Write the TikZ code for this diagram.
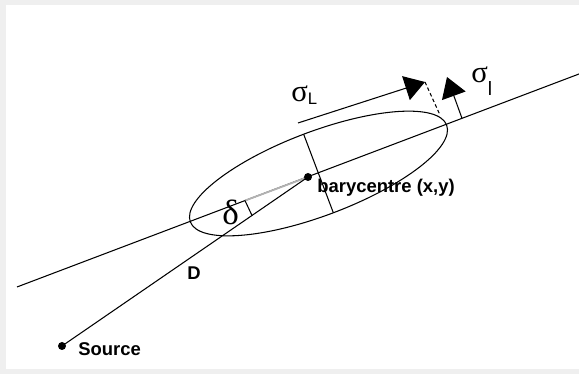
\documentclass[tikz,border=0pt]{standalone}
\usepackage{fontspec}
\setmainfont{Liberation Sans}
\newfontfamily\greekfont{Liberation Serif}
\usepackage{tikz}
\usetikzlibrary{arrows.meta}

\definecolor{framegray}{RGB}{239,239,239}
\tikzset{
  thinline/.style={black, line width=0.6pt},
  bigarrow/.style={thinline, -{Triangle[length=0.4cm, width=0.5cm]}},
  dotlabel/.style={font=\fontsize{10.5}{12}\selectfont\bfseries, inner sep=0pt, anchor=base west},
  greeklabel/.style={font=\fontsize{17.5}{19}\greekfont, inner sep=0pt, anchor=base west},
}

\begin{document}
\begin{tikzpicture}[x=0.02cm, y=0.02cm]
  \useasboundingbox (0,0) rectangle (579,374);
  \fill[white] (0,0) rectangle (579,374);
  \fill[framegray] (0,0) rectangle (6,374);
  \fill[framegray] (0,0) rectangle (579,5);
  \fill[framegray] (0,369) rectangle (579,374);

  \coordinate (axisL) at (17,87);
  \coordinate (axisR) at (579,300);
  \coordinate (centre) at (318.5,200.5);
  \coordinate (source) at (62,28);
  \coordinate (bary) at (308,197);
  \coordinate (markA) at (245,173.4);
  \coordinate (markB) at (252,158.5);
  \path (centre) +(110.7:42) coordinate (minorT) +(-69.3:42) coordinate (minorB);
  \coordinate (sigLstart) at (298,251);
  \coordinate (sigLtip) at (425,292);
  \coordinate (dashEnd) at (440,259);
  \coordinate (siglstart) at (462,255.7);
  \coordinate (sigltip) at (447,297);

  \draw[thinline] (axisL) -- (axisR);
  \draw[gray!60, line width=1pt] (markA) -- (bary);
  \draw[thinline, rotate around={20.7:(centre)}] (centre) ellipse [x radius=137, y radius=42];
  \draw[thinline] (minorT) -- (minorB);
  \draw[thinline] (source) -- (bary);
  \draw[thinline] (markA) -- (markB);
  \fill (source) circle[radius=4];
  \fill (bary) circle[radius=4];

  \draw[bigarrow] (sigLstart) -- (sigLtip);
  \draw[thinline, dash pattern=on 2pt off 1.5pt] (sigLtip) -- (dashEnd);
  \draw[bigarrow] (siglstart) -- (sigltip);

  \node[greeklabel] (sigLlab) at (291,272) {σ\raisebox{-1.5pt}{\normalfont\fontsize{9.5}{10}\selectfont L}};
  \node[greeklabel] (sigllab) at (471,291) {σ\raisebox{-7pt}{\normalfont\fontsize{11}{12}\selectfont l}};
  \node[greeklabel, font=\fontsize{20}{22}\greekfont] (deltalab) at (222,149) {δ};
  \node[dotlabel] (barylab) at (317,181) {barycentre (x,y)};
  \node[dotlabel] (sourcelab) at (78,18) {Source};
  \node[dotlabel] (dlab) at (187,94) {D};
\end{tikzpicture}
\end{document}
